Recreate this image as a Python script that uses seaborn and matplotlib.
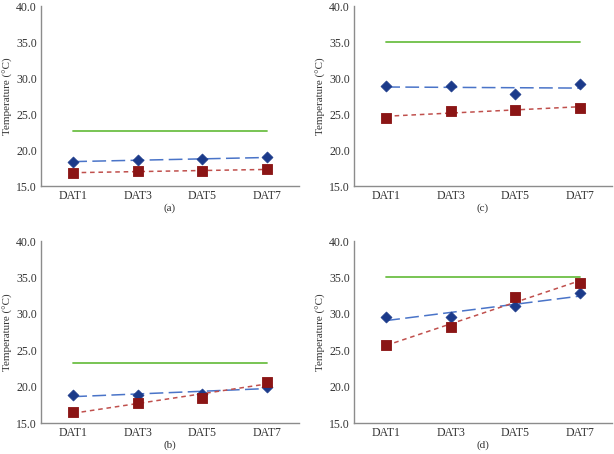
#!/usr/bin/env python3
"""Temperature by day after treatment, four panels with linear trend lines."""

import numpy as np
import matplotlib

matplotlib.use("Agg")
import matplotlib.pyplot as plt
import seaborn as sns

days = ["DAT1", "DAT3", "DAT5", "DAT7"]
panels = ["(a)", "(b)", "(c)", "(d)"]

blue_a = [18.4, 18.6, 18.7, 19.0]
red_a = [16.8, 17.1, 17.1, 17.3]
blue_b = [18.8, 18.9, 19.0, 20.0]
red_b = [16.5, 17.7, 18.5, 20.7]
blue_c = [28.9, 28.9, 27.8, 29.1]
red_c = [24.5, 25.4, 25.6, 25.9]
blue_d = [29.6, 29.5, 31.1, 32.8]
red_d = [25.7, 28.2, 32.3, 34.2]
green_level = [22.7, 23.2, 35.0, 35.0]

yticks = [15.0, 20.0, 25.0, 30.0, 35.0, 40.0]

sns.set_theme(style="white")
plt.rcParams["font.family"] = ["Liberation Serif", "DejaVu Serif"]

BLUE_MARK = "#1b3a8a"
BLUE_LINE = "#4a74c8"
RED_MARK = "#8b1515"
RED_LINE = "#c0504d"
GREEN = "#6dbf45"
AXIS = "#8c8c8c"

fig = plt.figure(figsize=(6.14, 4.54), dpi=100)

# axes boxes in figure fraction: left, bottom, width, height
boxes = [
    (41 / 614, 1 - 186 / 454, 258 / 614, 180 / 454),
    (41 / 614, 1 - 423 / 454, 258 / 614, 182 / 454),
    (354 / 614, 1 - 186 / 454, 258 / 614, 180 / 454),
    (354 / 614, 1 - 423 / 454, 258 / 614, 182 / 454),
]
series = [
    (blue_a, red_a),
    (blue_b, red_b),
    (blue_c, red_c),
    (blue_d, red_d),
]

pos = np.arange(len(days))

for box, (blue, red), green, label in zip(boxes, series, green_level, panels):
    ax = fig.add_axes(box)
    sns.lineplot(x=pos, y=[green] * len(days), ax=ax, color=GREEN, linewidth=1.3)
    sns.regplot(x=pos, y=blue, ax=ax, scatter=False, ci=None, truncate=True,
                line_kws=dict(color=BLUE_LINE, linewidth=1.1, dashes=(9, 3.5)))
    sns.regplot(x=pos, y=red, ax=ax, scatter=False, ci=None, truncate=True,
                line_kws=dict(color=RED_LINE, linewidth=1.1, dashes=(3, 2.5)))
    sns.scatterplot(x=pos, y=blue, ax=ax, marker="D", s=32, color=BLUE_MARK,
                    edgecolor=BLUE_MARK, zorder=4)
    sns.scatterplot(x=pos, y=red, ax=ax, marker="s", s=60, color=RED_MARK,
                    edgecolor=RED_MARK, zorder=4)

    ax.set_xlim(-0.5, len(days) - 0.5)
    ax.set_ylim(15, 40)
    ax.set_xticks(pos)
    ax.set_xticklabels(days)
    ax.set_yticks(yticks)
    ax.set_yticklabels([f"{v:.1f}" for v in yticks])
    ax.tick_params(axis="both", length=0, labelsize=8.5, colors="#333333", pad=3)
    ax.set_ylabel("Temperature (°C)", fontsize=8, color="#333333", labelpad=2)
    ax.set_xlabel(label, fontsize=8, color="#333333", labelpad=1)
    for side in ["top", "right"]:
        ax.spines[side].set_visible(False)
    for side in ["left", "bottom"]:
        ax.spines[side].set_color(AXIS)
        ax.spines[side].set_linewidth(1.0)

fig.savefig("out.png", dpi=100)
